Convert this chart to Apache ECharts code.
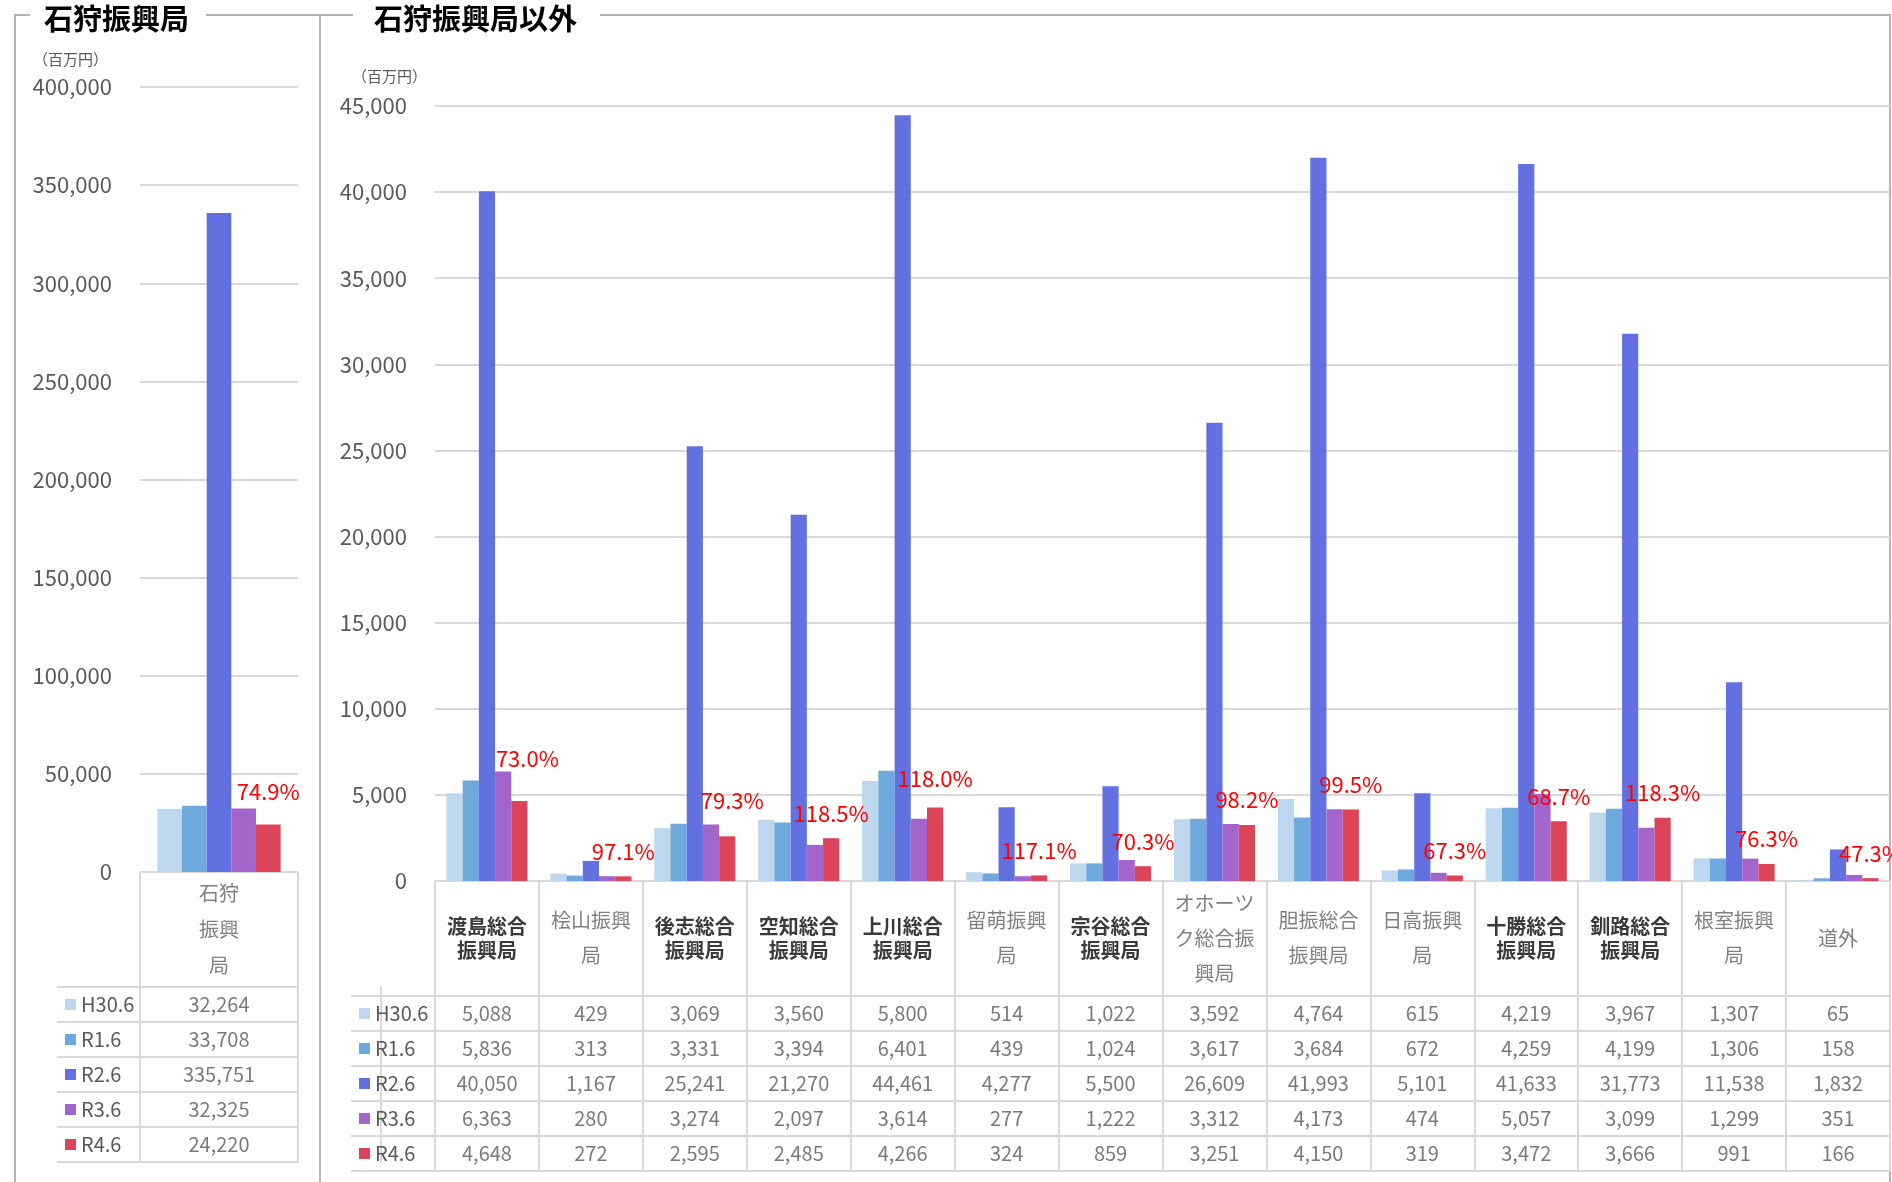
<!DOCTYPE html>
<html>
<head>
<meta charset="utf-8">
<script src="https://cdn.jsdelivr.net/npm/echarts@6/dist/echarts.min.js"></script>
<style>
  html, body { margin: 0; padding: 0; background: #fff; }
  #main { width: 1892px; height: 1182px; }
</style>
</head>
<body>
<div id="main"></div>
<script>
var FONT = '"Noto Sans CJK JP", "Noto Sans", sans-serif';

// 系列名と色
var seriesNames = ['H30.6', 'R1.6', 'R2.6', 'R3.6', 'R4.6'];
var colors = ['#BDD7EE', '#6FA8DC', '#6371E0', '#A365CB', '#DC4459'];

// 石狩振興局
var leftCategories = ['石狩振興局'];
var leftH306 = [32264];
var leftR16 = [33708];
var leftR26 = [335751];
var leftR36 = [32325];
var leftR46 = [24220];
var leftRate = [74.9];

// 石狩振興局以外
var rightCategories = ['渡島総合振興局', '桧山振興局', '後志総合振興局', '空知総合振興局', '上川総合振興局', '留萌振興局', '宗谷総合振興局',
  'オホーツク総合振興局', '胆振総合振興局', '日高振興局', '十勝総合振興局', '釧路総合振興局', '根室振興局', '道外'];
var rightH306 = [5088, 429, 3069, 3560, 5800, 514, 1022, 3592, 4764, 615, 4219, 3967, 1307, 65];
var rightR16 = [5836, 313, 3331, 3394, 6401, 439, 1024, 3617, 3684, 672, 4259, 4199, 1306, 158];
var rightR26 = [40050, 1167, 25241, 21270, 44461, 4277, 5500, 26609, 41993, 5101, 41633, 31773, 11538, 1832];
var rightR36 = [6363, 280, 3274, 2097, 3614, 277, 1222, 3312, 4173, 474, 5057, 3099, 1299, 351];
var rightR46 = [4648, 272, 2595, 2485, 4266, 324, 859, 3251, 4150, 319, 3472, 3666, 991, 166];
var rightRate = [73.0, 97.1, 79.3, 118.5, 118.0, 117.1, 70.3, 98.2, 99.5, 67.3, 68.7, 118.3, 76.3, 47.3];

// 太字で表示されている項目名
var boldNames = ['渡島総合振興局', '後志総合振興局', '空知総合振興局', '上川総合振興局', '宗谷総合振興局', '十勝総合振興局', '釧路総合振興局'];

// 手で動かされたラベルのずれ（右側、データ番号ごと）
var rightLabelShift = { 0: [8, -17], 2: [5, -11], 4: [0, -4] };

var leftRows = [leftH306, leftR16, leftR26, leftR36, leftR46];
var rightRows = [rightH306, rightR16, rightR26, rightR36, rightR46];

var GRID_LINE = { color: '#d9d9d9', width: 2 };
var BORDER = { stroke: '#b4b4b4', lineWidth: 2, fill: null };

function fmt(v) {
  return Number(v).toLocaleString('en-US');
}

function catLabel(perLine) {
  return function (name) {
    var style = boldNames.indexOf(name) >= 0 ? 'b' : 'r';
    var parts = [];
    for (var i = 0; i < name.length; i += perLine) {
      parts.push('{' + style + '|' + name.slice(i, i + perLine) + '}');
    }
    return parts.join('\n');
  };
}

function catRich(lh) {
  return {
    b: { fontSize: 20, fontWeight: 'bold', color: '#3a3a3a', lineHeight: 24, fontFamily: FONT },
    r: { fontSize: 20, color: '#808080', lineHeight: lh, fontFamily: FONT }
  };
}

var rowRich = {
  t: { fontSize: 20, color: '#595959', padding: [0, 0, 0, 5], fontFamily: FONT }
};
colors.forEach(function (c, i) {
  rowRich['s' + i] = { width: 11, height: 11, backgroundColor: c };
});

function plotX(grid, data, perLine, lh) {
  return {
    gridIndex: grid, type: 'category', data: data,
    axisLine: { show: true, lineStyle: GRID_LINE },
    axisTick: { show: true, length: 115, interval: 0, lineStyle: GRID_LINE },
    axisLabel: {
      interval: 0, margin: 57, verticalAlign: 'middle',
      formatter: catLabel(perLine), rich: catRich(lh)
    },
    splitLine: { show: false }
  };
}

function tableX(grid, data) {
  return {
    gridIndex: grid, type: 'category', data: data,
    axisLine: { show: true, lineStyle: GRID_LINE },
    axisTick: { show: false },
    axisLabel: { show: false },
    splitLine: { show: true, interval: 0, lineStyle: GRID_LINE }
  };
}

function plotY(grid, max, interval, nameGap, namePad) {
  return {
    gridIndex: grid, type: 'value', min: 0, max: max, interval: interval,
    name: '（百万円）', nameLocation: 'end', nameGap: nameGap,
    nameTextStyle: { align: 'right', padding: [0, namePad, 0, 0], fontSize: 15, color: '#595959', fontFamily: FONT },
    axisLine: { show: false },
    axisTick: { show: false },
    axisLabel: { margin: 28, fontSize: 22, color: '#595959', fontFamily: FONT },
    splitLine: { lineStyle: GRID_LINE }
  };
}

function tableY(grid, headW, labelMargin) {
  return {
    gridIndex: grid, type: 'category', data: seriesNames, inverse: true,
    axisLine: { show: true, lineStyle: GRID_LINE },
    axisTick: { show: true, length: headW, interval: 0, lineStyle: GRID_LINE },
    axisLabel: {
      margin: labelMargin, align: 'left',
      formatter: function (v, i) { return '{s' + i + '|}{t|' + v + '}'; },
      rich: rowRich
    },
    splitLine: { show: true, interval: 0, lineStyle: GRID_LINE }
  };
}

function borderY(grid, headW) {
  return {
    gridIndex: grid, type: 'category', data: seriesNames, inverse: true, offset: headW,
    axisLine: { show: true, lineStyle: GRID_LINE },
    axisTick: { show: false }, axisLabel: { show: false }, splitLine: { show: false }
  };
}

function barSeries(xIdx, yIdx, rows, rate, labelDist, shift) {
  return rows.map(function (vals, i) {
    var s = {
      name: seriesNames[i], type: 'bar', xAxisIndex: xIdx, yAxisIndex: yIdx,
      data: vals, barGap: '0%', barCategoryGap: '22%',
      itemStyle: { color: colors[i] }
    };
    if (i === 4) {
      s.data = vals.map(function (v, k) {
        return shift[k] ? { value: v, label: { offset: shift[k] } } : v;
      });
      s.label = {
        show: true, position: 'top', distance: labelDist,
        color: '#ff0000', fontSize: 22, fontFamily: FONT,
        formatter: function (p) { return rate[p.dataIndex].toFixed(1) + '%'; }
      };
    }
    return s;
  });
}

function tableSeries(xIdx, yIdx, rows) {
  var data = [];
  rows.forEach(function (vals, r) {
    vals.forEach(function (v, c) { data.push([c, r, v]); });
  });
  return {
    type: 'scatter', xAxisIndex: xIdx, yAxisIndex: yIdx, silent: true,
    symbolSize: 0, data: data,
    label: {
      show: true, position: 'inside', fontSize: 20, color: '#595959', fontFamily: FONT,
      formatter: function (p) { return fmt(p.value[2]); }
    }
  };
}

var chart = echarts.init(document.getElementById('main'));

var option = {
  animation: false,
  textStyle: { fontFamily: FONT },
  title: [
    { text: '石狩振興局', left: 44, top: 4, padding: 0, textStyle: { fontSize: 29, fontWeight: 'bold', color: '#000', fontFamily: FONT } },
    { text: '石狩振興局以外', left: 374, top: 4, padding: 0, textStyle: { fontSize: 29, fontWeight: 'bold', color: '#000', fontFamily: FONT } }
  ],
  grid: [
    { left: 140, top: 87, width: 158, height: 785 },
    { left: 140, top: 987, width: 158, height: 175 },
    { left: 435, top: 106, width: 1455, height: 775 },
    { left: 435, top: 996, width: 1455, height: 175 }
  ],
  xAxis: [
    plotX(0, leftCategories, 2, 36),
    tableX(1, leftCategories),
    plotX(2, rightCategories, 4, 35),
    tableX(3, rightCategories)
  ],
  yAxis: [
    plotY(0, 400000, 50000, 20, 32),
    tableY(1, 83, 75),
    borderY(1, 83),
    plotY(2, 45000, 5000, 22, 8),
    tableY(3, 84, 76),
    borderY(3, 84)
  ],
  series: []
    .concat(barSeries(0, 0, leftRows, leftRate, 22, {}))
    .concat([tableSeries(1, 1, leftRows)])
    .concat(barSeries(2, 3, rightRows, rightRate, 14, rightLabelShift))
    .concat([tableSeries(3, 4, rightRows)]),
  graphic: {
    elements: [
      { type: 'polyline', silent: true, shape: { points: [[30, 15], [15, 15], [15, 1182]] }, style: BORDER },
      { type: 'line', silent: true, shape: { x1: 206, y1: 15, x2: 353, y2: 15 }, style: BORDER },
      { type: 'line', silent: true, shape: { x1: 320, y1: 15, x2: 320, y2: 1182 }, style: BORDER },
      { type: 'polyline', silent: true, shape: { points: [[600, 15], [1890, 15], [1890, 1182]] }, style: BORDER }
    ]
  }
};

chart.setOption(option);
</script>
</body>
</html>
